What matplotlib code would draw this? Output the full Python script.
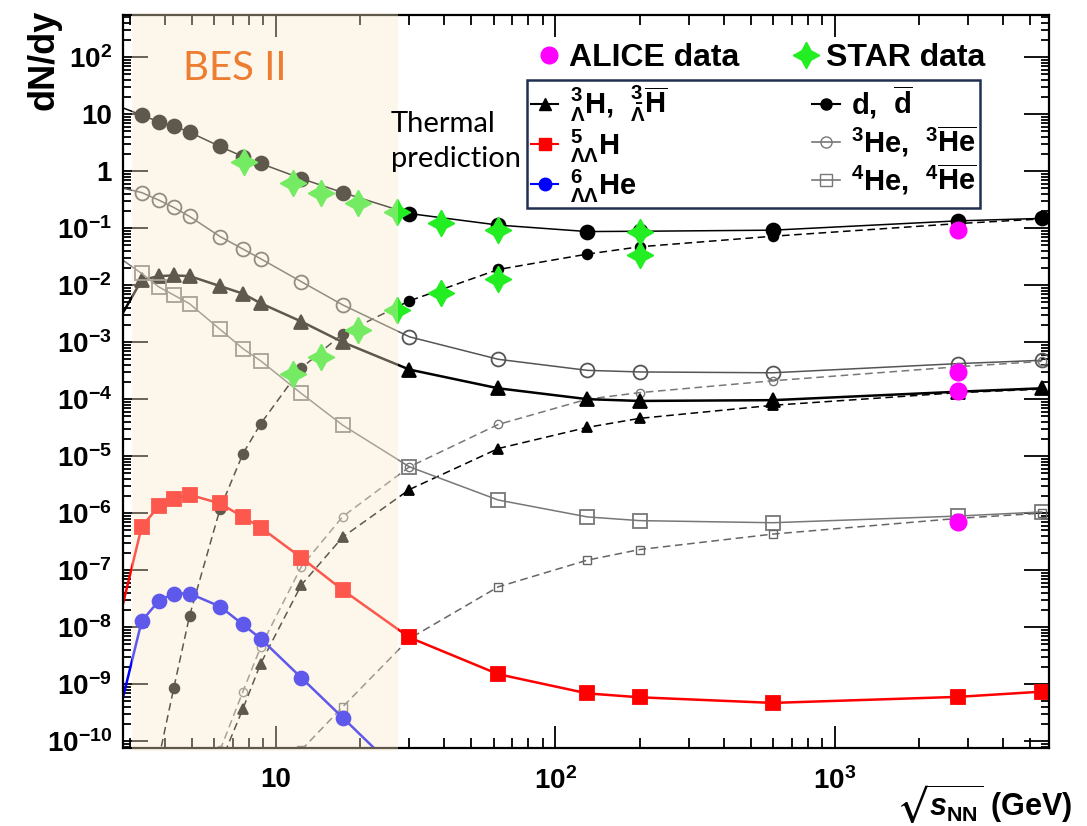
import numpy as np
import matplotlib
matplotlib.use('Agg')
import matplotlib.pyplot as plt
from matplotlib.lines import Line2D
from matplotlib.ticker import FixedLocator, FixedFormatter, LogLocator, NullFormatter

plt.rcParams['font.family'] = 'Liberation Sans'
plt.rcParams['font.weight'] = 'bold'
plt.rcParams['axes.labelweight'] = 'bold'
plt.rcParams['mathtext.fontset'] = 'custom'
plt.rcParams['mathtext.rm'] = 'Liberation Sans:bold'
plt.rcParams['mathtext.bf'] = 'Liberation Sans:bold'
plt.rcParams['mathtext.it'] = 'Liberation Sans:bold:italic'
plt.rcParams['mathtext.default'] = 'bf'
plt.rcParams['mathtext.fallback'] = 'stixsans'

nan = np.nan

# thermal model, sqrt(s_NN) in GeV (first point sits just left of the frame)
sqrt_s = [2.7, 3.3, 3.8, 4.3, 4.9, 6.3, 7.6, 8.8, 12.3, 17.3, 30, 62.4, 130, 200, 600, 2760, 5500]
deut = [14, 9.6, 7.3, 6.2, 4.8, 2.7, 1.8, 1.36, 0.74, 0.42, 0.18, 0.113, 0.087, 0.088, 0.092, 0.134, 0.148]
antideut = [nan, nan, 5e-11, 8.6e-10, 1.6e-8, 1.2e-6, 1.1e-5, 3.7e-5, 3.5e-4, 1.4e-3, 5.3e-3,
            0.0188, 0.035, 0.047, 0.072, 0.12, 0.145]
he3 = [0.53, 0.42, 0.31, 0.23, 0.16, 0.071, 0.043, 0.029, 0.0115, 4.5e-3, 1.24e-3,
       5.0e-4, 3.2e-4, 3.0e-4, 2.9e-4, 4.2e-4, 4.8e-4]
antihe3 = [nan, nan, nan, nan, nan, 7e-11, 7.4e-10, 4.5e-9, 1.15e-7, 8.7e-7, 6.5e-6,
           3.6e-5, 1.0e-4, 1.3e-4, 2.1e-4, 3.7e-4, 4.6e-4]
hyt = [2.2e-3, 0.0123, 0.0144, 0.0148, 0.0144, 0.0096, 7.1e-3, 4.8e-3, 2.3e-3, 1.0e-3, 3.3e-4,
       1.55e-4, 1.0e-4, 9.3e-5, 9.6e-5, 1.35e-4, 1.55e-4]
antihyt = [nan, nan, nan, nan, nan, 4e-11, 3.7e-10, 2.3e-9, 5.5e-8, 3.8e-7, 2.6e-6,
           1.36e-5, 3.2e-5, 4.6e-5, 7.8e-5, 1.3e-4, 1.5e-4]
he4 = [0.032, 0.016, 9.3e-3, 6.7e-3, 4.7e-3, 1.67e-3, 7.7e-4, 4.7e-4, 1.26e-4, 3.5e-5, 6.5e-6,
       1.7e-6, 8.6e-7, 7.4e-7, 6.8e-7, 8.9e-7, 1.05e-6]
antihe4 = [nan, nan, nan, nan, nan, nan, nan, nan, 7e-11, 4.0e-10, 6.3e-9,
           5.1e-8, 1.5e-7, 2.3e-7, 4.3e-7, 8.1e-7, 1.0e-6]
h5 = [1e-8, 5.8e-7, 1.33e-6, 1.8e-6, 2.1e-6, 1.48e-6, 8.6e-7, 5.6e-7, 1.66e-7, 4.5e-8, 6.6e-9,
      1.5e-9, 6.9e-10, 5.9e-10, 4.7e-10, 6.0e-10, 7.4e-10]
he6 = [2.3e-10, 1.28e-8, 2.9e-8, 3.9e-8, 3.9e-8, 2.3e-8, 1.12e-8, 6.3e-9, 1.3e-9, 2.6e-10, 1.9e-11,
       nan, nan, nan, nan, nan, nan]

# STAR data
star_s = [7.7, 11.5, 14.5, 19.6, 27, 39, 62.4, 200]
star_d = [1.44, 0.62, 0.41, 0.275, 0.19, 0.124, 0.092, 0.087]
star_dbar = [nan, 2.8e-4, 5.5e-4, 1.6e-3, 3.6e-3, 7.2e-3, 0.013, 0.034]

# ALICE data (d, 3He, hypertriton, 4He) at 2.76 TeV
alice_s = [2760, 2760, 2760, 2760]
alice_y = [0.092, 3.0e-4, 1.4e-4, 7.0e-7]

x_ticks = [10, 100, 1000]
x_labels = ['10', '$10^{2}$', '$10^{3}$']
y_ticks = [10.0 ** k for k in range(-10, 3)]
y_labels = ['$10^{%d}$' % k for k in range(-10, 0)] + ['1', '10', '$10^{2}$']

fig = plt.figure(figsize=(10.87, 8.26), dpi=100)
ax = fig.add_axes([0.1132, 0.0944, 0.8519, 0.8874])
ax.set_xscale('log')
ax.set_yscale('log')

dash = (5, 3)
grey1 = '#555555'
grey2 = '#777777'

def model(y, marker, color, ms, lw, mfc=None, dashed=False, mew=1.3):
    kw = dict(color=color, lw=lw, marker=marker, ms=ms, mec=color,
              mfc=color if mfc is None else mfc, mew=mew, markevery=slice(1, None))
    if dashed:
        kw['dashes'] = dash
    ax.plot(sqrt_s, y, **kw)

model(deut, 'o', 'black', 10, 1.1)
model(antideut, 'o', 'black', 7, 1.1, dashed=True)
model(he3, 'o', grey1, 10, 1.1, mfc='none')
model(antihe3, 'o', grey2, 6, 1.1, mfc='none', dashed=True, mew=1.0)
model(hyt, '^', 'black', 10, 1.8)
model(antihyt, '^', 'black', 6.5, 1.1, dashed=True)
model(he4, 's', grey2, 10, 1.1, mfc='none')
model(antihe4, 's', '#666666', 6, 1.1, mfc='none', dashed=True, mew=1.0)
model(h5, 's', '#ff0000', 9.5, 1.8)
model(he6, 'o', '#0000ff', 10, 1.8)

ax.plot(star_s, star_d, ls='none', marker=(4, 1, 0), ms=19, color='#22ee22')
ax.plot(star_s, star_dbar, ls='none', marker=(4, 1, 0), ms=19, color='#22ee22')
ax.plot(alice_s, alice_y, ls='none', marker='o', ms=12, color='#ff00ff')

# BES II band, drawn as a translucent layer over the curves
ax.axvspan(3.04, 27.4, ymin=-0.004, ymax=1.003, color='#fae8cb', alpha=0.38, lw=0,
           zorder=3, clip_on=False)
ax.text(0.0648, 0.9277, 'BES II', transform=ax.transAxes, family='Lato', weight='normal',
        fontsize=29, color='#ed7d31', va='center', ha='left', zorder=6)
ax.text(0.2894, 0.828, 'Thermal\nprediction', transform=ax.transAxes, family='Lato',
        weight='normal', fontsize=21, linespacing=1.42, va='center', ha='left', zorder=6)

ax.set_xlim(2.83, 5850)
ax.set_ylim(7.6e-11, 546)

ax.xaxis.set_major_locator(FixedLocator(x_ticks))
ax.xaxis.set_major_formatter(FixedFormatter(x_labels))
ax.yaxis.set_major_locator(FixedLocator(y_ticks))
ax.yaxis.set_major_formatter(FixedFormatter(y_labels))
ax.xaxis.set_minor_locator(LogLocator(base=10, subs=np.arange(2, 10), numticks=50))
ax.yaxis.set_minor_locator(LogLocator(base=10, subs=np.arange(2, 10), numticks=50))
ax.xaxis.set_minor_formatter(NullFormatter())
ax.yaxis.set_minor_formatter(NullFormatter())

ax.tick_params(which='both', direction='in', top=True, right=True, width=1.3, labelsize=20)
ax.tick_params(axis='x', which='major', length=16, pad=14)
ax.tick_params(axis='x', which='minor', length=7)
ax.tick_params(axis='y', which='major', length=18, pad=8)
ax.tick_params(axis='y', which='minor', length=6)
for s in ax.spines.values():
    s.set_linewidth(1.6)

ax.set_ylabel('dN/dy', fontsize=26, fontweight='bold', loc='top')
ax.yaxis.set_label_coords(-0.066, 1.007)
ax.set_xlabel(r'$\sqrt{\mathit{s}_{\mathbf{NN}}}$ (GeV)', fontsize=22, fontweight='bold', loc='right')
ax.xaxis.set_label_coords(1.025, -0.047)

# legends
model_handles = [
    Line2D([], [], color='black', marker='^', ms=9, lw=1.5),
    Line2D([], [], color='#ff0000', marker='s', ms=9, lw=1.5),
    Line2D([], [], color='#0000ff', marker='o', ms=9, lw=1.5),
    Line2D([], [], color='black', marker='o', ms=8, lw=1.5),
    Line2D([], [], color=grey2, marker='o', ms=8, lw=1.2, mfc='none'),
    Line2D([], [], color=grey2, marker='s', ms=8, lw=1.2, mfc='none'),
]
model_labels = [
    r'${}^{3}_{\Lambda}$H,  ${}^{3}_{\bar{\Lambda}}\overline{\mathbf{H}}$',
    r'${}^{5}_{\Lambda\Lambda}$H',
    r'${}^{6}_{\Lambda\Lambda}$He',
    r'd,  $\overline{\mathbf{d}}$',
    r'${}^{3}$He,  ${}^{3}\overline{\mathbf{He}}$',
    r'${}^{4}$He,  ${}^{4}\overline{\mathbf{He}}$',
]
leg1 = ax.legend(model_handles, model_labels, ncol=2, mode='expand', loc='lower left',
                 bbox_to_anchor=(0.485, 0.748, 0.417, 0.159), bbox_transform=fig.transFigure,
                 fontsize=21, handlelength=0.95, handletextpad=0.4, labelspacing=0.1,
                 borderpad=0.12, borderaxespad=0, fancybox=False, framealpha=1,
                 edgecolor='#1f3050')
leg1.get_frame().set_linewidth(1.8)
leg1.set_zorder(8)
ax.add_artist(leg1)

data_handles = [
    Line2D([], [], ls='none', marker='o', ms=12, color='#ff00ff'),
    Line2D([], [], ls='none', marker=(4, 1, 0), ms=19, color='#22ee22'),
]
leg2 = ax.legend(data_handles, ['ALICE data', 'STAR data'], ncol=2, loc='center left',
                 bbox_to_anchor=(534 / 1087, 1 - 58 / 826), bbox_transform=fig.transFigure,
                 fontsize=23, handlelength=0.95, handletextpad=0.15, columnspacing=1.6,
                 borderpad=0, borderaxespad=0, frameon=False)
leg2.set_zorder(8)

fig.savefig('out.png', dpi=100)
